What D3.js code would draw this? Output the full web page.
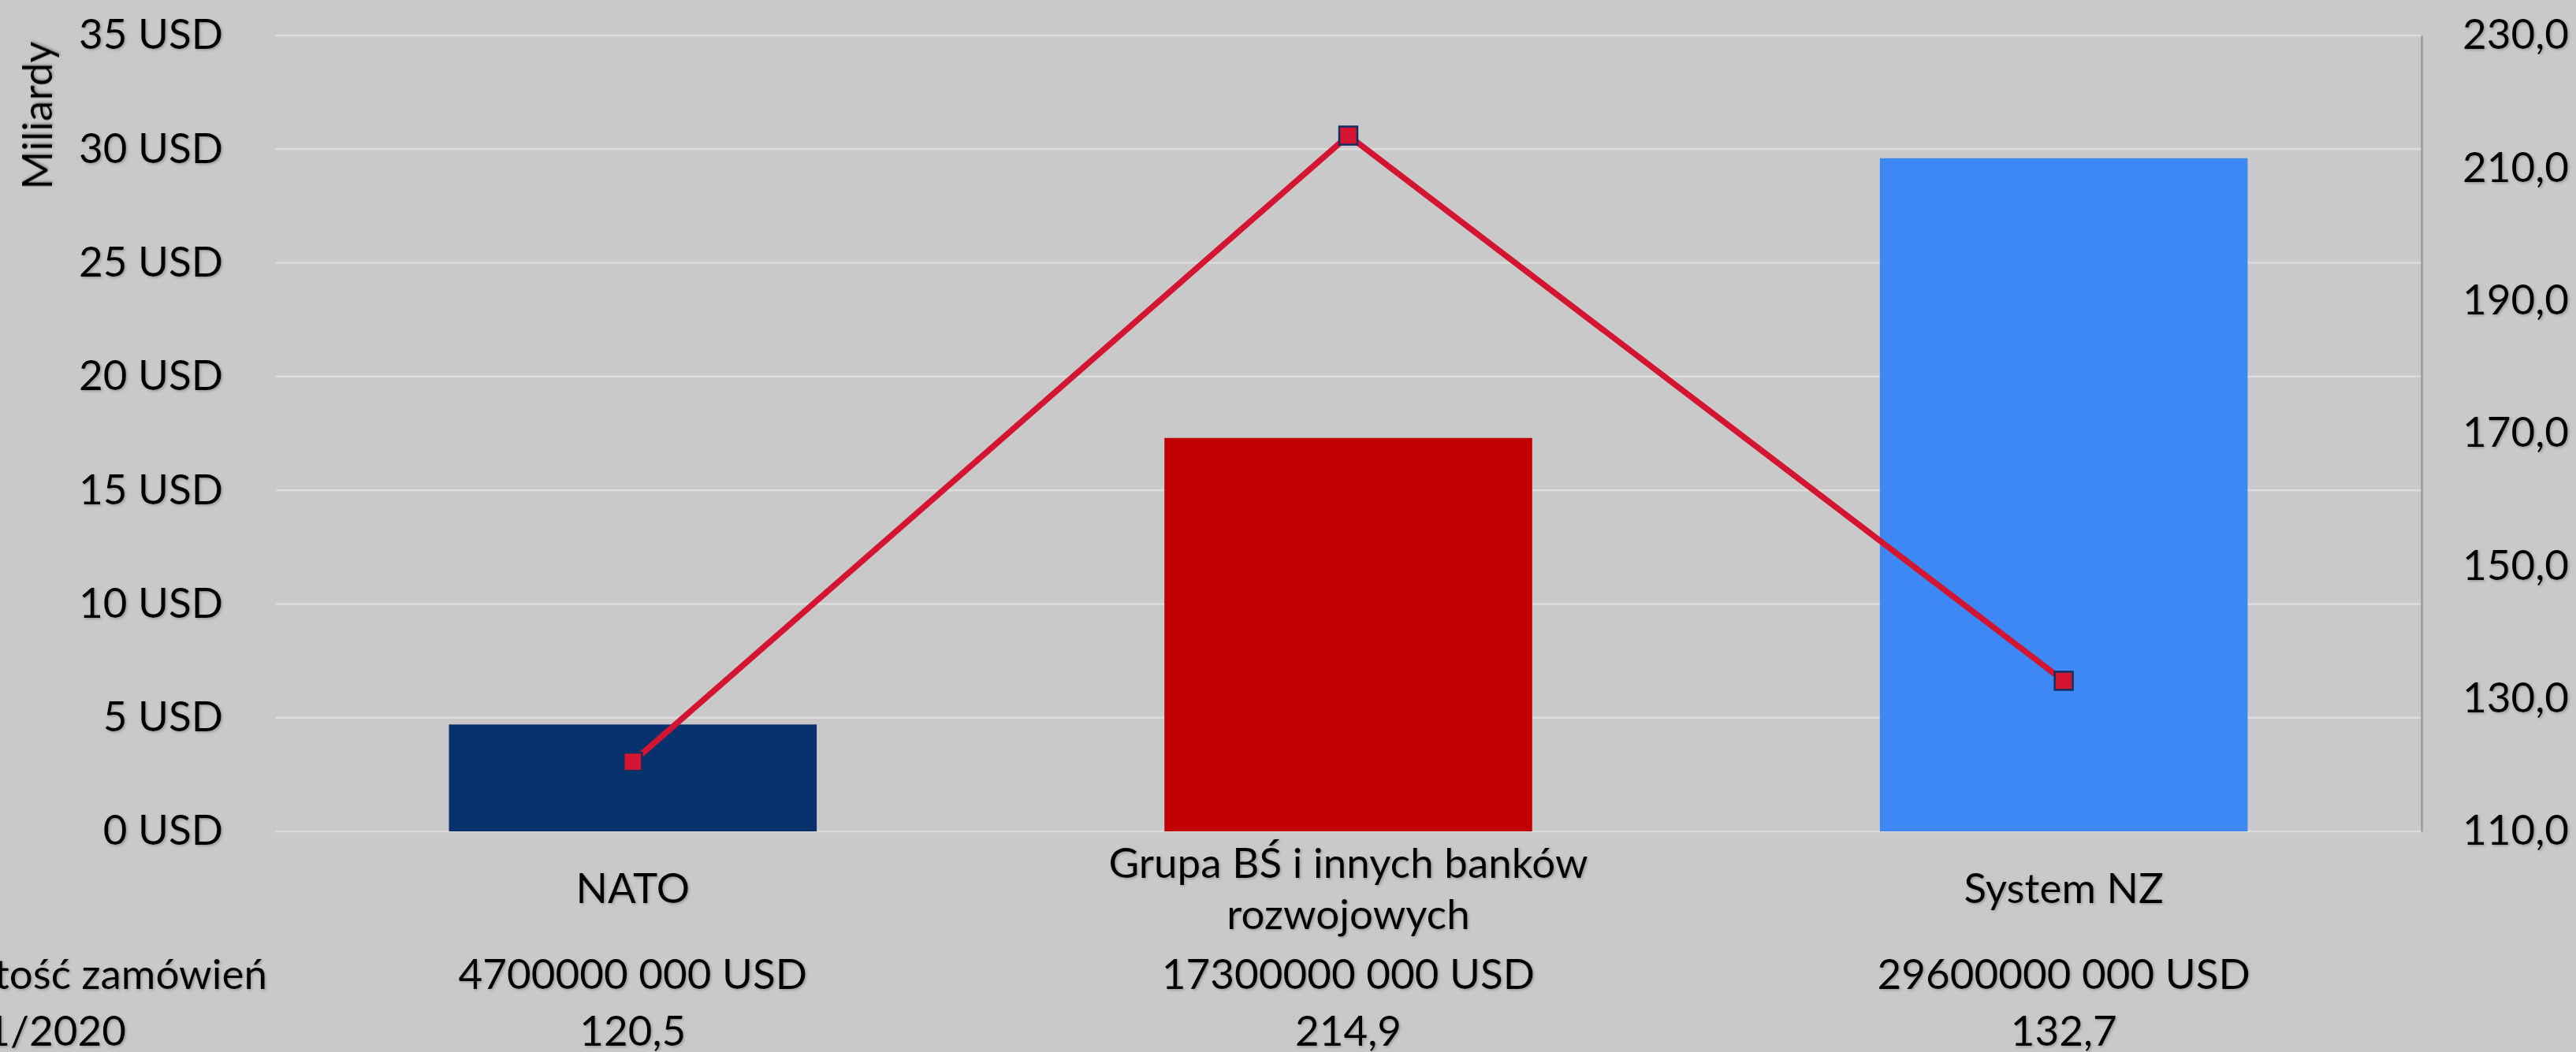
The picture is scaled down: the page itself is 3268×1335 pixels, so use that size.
<!DOCTYPE html>
<html lang="pl">
  <head>
    <meta charset="utf-8" />
    <title>Wartość zamówień</title>
    <script src="https://cdnjs.cloudflare.com/ajax/libs/d3/7.8.5/d3.min.js"></script>
    <style type="text/css">
      html, body {
        margin: 0;
        padding: 0;
        background: #c8c9c8;
        overflow: hidden;
      }
      svg text {
        font-family: Lato, "Open Sans", sans-serif;
        font-size: 53px;
        fill: #000;
      }
    </style>
  </head>

  <body>
    <script>
      // data
      const categories = ['NATO', 'Grupa BŚ i innych banków rozwojowych', 'System NZ'];
      const orderValues = [4700000000, 17300000000, 29600000000]; // USD
      const indexValues = [120.5, 214.9, 132.7];
      const leftTicks = [0, 5, 10, 15, 20, 25, 30, 35];
      const rightTicks = [110, 130, 150, 170, 190, 210, 230];
      const barColors = ['#08326e', '#c00000', '#3d88f5'];
      const rowLabels = ['Wartość zamówień', '11/2020'];

      const width = 3268;
      const height = 1335;
      const marginTop = 45;
      const marginLeft = 349;
      const plotRight = 3072;
      const plotBottom = 1055;

      const svg = d3.select('body')
        .append('svg')
        .attr('width', width)
        .attr('height', height)
        .attr('viewBox', [0, 0, width, height]);

      // soft shadow under the text, like the original
      const defs = svg.append('defs');
      defs.append('filter')
        .attr('id', 'shadow')
        .attr('x', '-10%').attr('y', '-20%')
        .attr('width', '120%').attr('height', '140%')
        .append('feDropShadow')
        .attr('dx', 1.5).attr('dy', 1.5)
        .attr('stdDeviation', 1.5)
        .attr('flood-color', '#777')
        .attr('flood-opacity', 0.6);

      svg.append('rect')
        .attr('width', width)
        .attr('height', height)
        .attr('fill', '#c8c9c8');

      const x = d3.scaleBand()
        .domain(categories)
        .range([marginLeft, plotRight])
        .paddingInner(0.486)
        .paddingOuter(0.243);

      const y = d3.scaleLinear()
        .domain([0, 35])
        .range([plotBottom, marginTop]);

      const yR = d3.scaleLinear()
        .domain([110, 230])
        .range([plotBottom, marginTop]);

      // gridlines
      svg.append('g')
        .selectAll('line')
        .data(leftTicks)
        .join('line')
        .attr('x1', marginLeft)
        .attr('x2', plotRight)
        .attr('y1', d => y(d))
        .attr('y2', d => y(d))
        .attr('stroke', '#dcdcdc')
        .attr('stroke-width', 2.5);

      // left axis
      svg.append('g')
        .attr('transform', `translate(${marginLeft},0)`)
        .call(d3.axisLeft(y).tickValues(leftTicks).tickSize(0).tickPadding(66)
          .tickFormat(d => `${d} USD`))
        .call(g => g.select('.domain').remove())
        .call(g => g.selectAll('text')
          .attr('font-family', null)
          .attr('font-size', null)
          .attr('fill', null)
          .attr('filter', 'url(#shadow)'));

      svg.append('text')
        .attr('transform', `translate(66, ${(53 + 240) / 2}) rotate(-90)`)
        .attr('text-anchor', 'middle')
        .attr('filter', 'url(#shadow)')
        .text('Miliardy');

      // right axis
      svg.append('g')
        .attr('transform', `translate(${plotRight},0)`)
        .call(d3.axisRight(yR).tickValues(rightTicks).tickSize(0).tickSizeOuter(0).tickPadding(52)
          .tickFormat(d => d3.format('.1f')(d).replace('.', ',')))
        .call(g => g.select('.domain').attr('stroke', '#9a9a9a').attr('stroke-width', 2.5))
        .call(g => g.selectAll('text')
          .attr('font-family', null)
          .attr('font-size', null)
          .attr('fill', null)
          .attr('filter', 'url(#shadow)'));

      // bars
      svg.append('g')
        .selectAll('rect')
        .data(categories)
        .join('rect')
        .attr('x', d => x(d))
        .attr('width', x.bandwidth())
        .attr('y', (d, i) => y(orderValues[i] / 1e9))
        .attr('height', (d, i) => y(0) - y(orderValues[i] / 1e9))
        .attr('fill', (d, i) => barColors[i]);

      // line on the right axis
      const points = categories.map((c, i) => [x(c) + x.bandwidth() / 2, yR(indexValues[i])]);

      svg.append('path')
        .datum(points)
        .attr('fill', 'none')
        .attr('stroke', '#d41532')
        .attr('stroke-width', 7.5)
        .attr('stroke-linejoin', 'round')
        .attr('d', d3.line());

      svg.append('g')
        .selectAll('rect')
        .data(points)
        .join('rect')
        .attr('x', d => d[0] - 11.5)
        .attr('y', d => d[1] - 11.5)
        .attr('width', 23)
        .attr('height', 23)
        .attr('fill', '#d41532')
        .attr('stroke', '#14305f')
        .attr('stroke-width', 2.5);

      // category labels, wrapped when too long
      const lineHeight = 65;
      const labelMid = 1146;
      const catLabels = svg.append('g')
        .selectAll('text')
        .data(categories)
        .join('text')
        .attr('text-anchor', 'middle')
        .attr('filter', 'url(#shadow)')
        .attr('x', d => x(d) + x.bandwidth() / 2);

      catLabels.each(function (d) {
        const text = d3.select(this);
        const words = d.split(' ');
        const lines = [];
        let line = [];
        const probe = text.append('tspan');
        words.forEach(w => {
          line.push(w);
          probe.text(line.join(' '));
          if (probe.node().getComputedTextLength() > 700 && line.length > 1) {
            line.pop();
            lines.push(line.join(' '));
            line = [w];
          }
        });
        lines.push(line.join(' '));
        probe.remove();
        const cx = text.attr('x');
        lines.forEach((l, k) => {
          text.append('tspan')
            .attr('x', cx)
            .attr('y', labelMid + (k - (lines.length - 1) / 2) * lineHeight)
            .text(l);
        });
      });

      // data table under the chart
      const fmtOrder = v => `${Math.floor(v / 1000)} ${String(v % 1000).padStart(3, '0')} USD`;
      const fmtIndex = v => d3.format('.1f')(v).replace('.', ',');
      const rowY = [1255, 1327];
      const rowLabelEnd = [339, 160];

      svg.append('g')
        .selectAll('text')
        .data(rowLabels)
        .join('text')
        .attr('text-anchor', 'end')
        .attr('filter', 'url(#shadow)')
        .attr('x', (d, i) => rowLabelEnd[i])
        .attr('y', (d, i) => rowY[i])
        .text(d => d);

      svg.append('g')
        .selectAll('text')
        .data(categories)
        .join('text')
        .attr('text-anchor', 'middle')
        .attr('filter', 'url(#shadow)')
        .attr('x', d => x(d) + x.bandwidth() / 2)
        .attr('y', rowY[0])
        .text((d, i) => fmtOrder(orderValues[i]));

      svg.append('g')
        .selectAll('text')
        .data(categories)
        .join('text')
        .attr('text-anchor', 'middle')
        .attr('filter', 'url(#shadow)')
        .attr('x', d => x(d) + x.bandwidth() / 2)
        .attr('y', rowY[1])
        .text((d, i) => fmtIndex(indexValues[i]));
    </script>
  </body>
</html>
